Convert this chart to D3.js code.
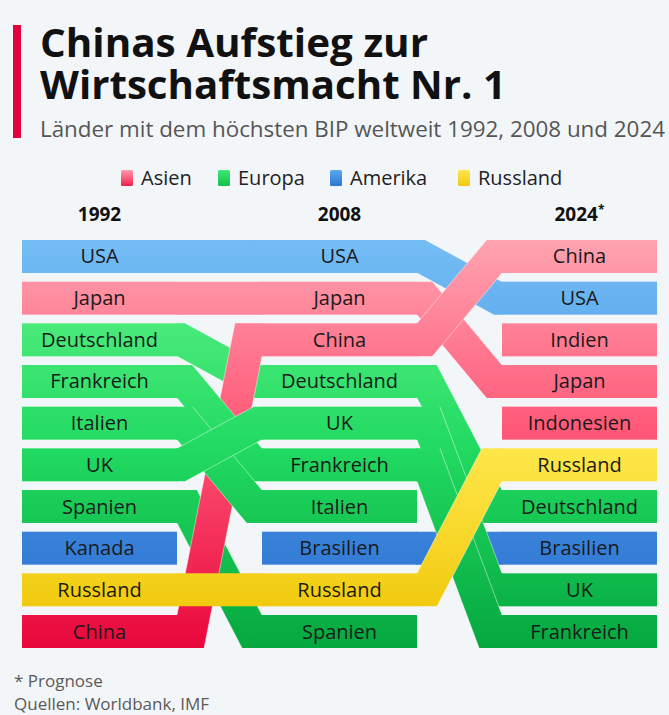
<!DOCTYPE html>
<html>
<head>
<meta charset="utf-8">
<script src="https://cdn.jsdelivr.net/npm/d3@7"></script>
<style>
  html, body { margin: 0; padding: 0; background: #f3f6f9; }
  svg { display: block; }
  text { font-family: "Open Sans", "Noto Sans", sans-serif; }
</style>
</head>
<body>
<svg id="chart" width="669" height="715"></svg>
<script>
// ---------------- DATA ----------------
const titleLines = ["Chinas Aufstieg zur", "Wirtschaftsmacht Nr. 1"];
const subtitle = "Länder mit dem höchsten BIP weltweit 1992, 2008 und 2024";
const categories = ["Asien", "Europa", "Amerika", "Russland"];
const years = ["1992", "2008", "2024"];
const yearLabels = ["1992", "2008", "2024"];
const yearNotes = ["", "", "*"];
const ranks = [1, 2, 3, 4, 5, 6, 7, 8, 9, 10];
const rank1992 = ["USA", "Japan", "Deutschland", "Frankreich", "Italien", "UK", "Spanien", "Kanada", "Russland", "China"];
const rank2008 = ["USA", "Japan", "China", "Deutschland", "UK", "Frankreich", "Italien", "Brasilien", "Russland", "Spanien"];
const rank2024 = ["China", "USA", "Indien", "Japan", "Indonesien", "Russland", "Deutschland", "Brasilien", "UK", "Frankreich"];
const countries = ["USA", "Japan", "China", "Deutschland", "Frankreich", "Italien", "UK", "Spanien", "Kanada", "Russland", "Brasilien", "Indien", "Indonesien"];
const countryRegion = ["Amerika", "Asien", "Asien", "Europa", "Europa", "Europa", "Europa", "Europa", "Amerika", "Russland", "Amerika", "Asien", "Asien"];
const footnotes = ["* Prognose", "Quellen: Worldbank, IMF"];

// ---------------- DRAWING ----------------
const svg = d3.select("#chart");
const W = 669, H = 715;
svg.append("rect").attr("width", W).attr("height", H).attr("fill", "#f3f6f9");

const rankings = [rank1992, rank2008, rank2024];
const regionOf = new Map(countries.map((c, i) => [c, countryRegion[i]]));

const x = d3.scaleBand().domain(years).range([22, 657]).paddingInner(85 / 240).paddingOuter(0);
const y = d3.scaleBand().domain(ranks).range([240, 648]).paddingInner(8.67 / 41.67).paddingOuter(0);
const bw = x.bandwidth();
const bh = y.bandwidth();

// gradients
const defs = svg.append("defs");
const gradStops = {
  "Asien":   [[0, "#ffa3b1"], [0.45, "#ff5a79"], [1, "#e9073b"]],
  "Europa":  [[0, "#66f48c"], [0.5, "#22db62"], [1, "#05a83f"]],
  "Amerika": [[0, "#74bdf4"], [0.5, "#4a98e6"], [1, "#2468cc"]],
  "Russland":[[0, "#fff266"], [0.5, "#ffe84c"], [1, "#eec300"]]
};
const legendStops = {
  "Asien":   [[0, "#ff9aab"], [1, "#f0204c"]],
  "Europa":  [[0, "#3ee873"], [1, "#0fbf4c"]],
  "Amerika": [[0, "#5aa8ee"], [1, "#2c76d4"]],
  "Russland":[[0, "#ffe650"], [1, "#f0c810"]]
};
categories.forEach(c => {
  const g = defs.append("linearGradient").attr("id", "g-" + c)
    .attr("gradientUnits", "userSpaceOnUse")
    .attr("x1", 0).attr("x2", 0).attr("y1", y.range()[0]).attr("y2", y.range()[1]);
  gradStops[c].forEach(s => g.append("stop").attr("offset", s[0]).attr("stop-color", s[1]));
  const lg = defs.append("linearGradient").attr("id", "lg-" + c)
    .attr("x1", 0).attr("x2", 0).attr("y1", 0).attr("y2", 1);
  legendStops[c].forEach(s => lg.append("stop").attr("offset", s[0]).attr("stop-color", s[1]));
});
const fillOf = c => `url(#g-${regionOf.get(c)})`;

// Header: red bar, title, subtitle
svg.append("rect").attr("x", 13).attr("y", 25).attr("width", 8).attr("height", 113).attr("fill", "#e4003a");
const titleW = [388, 466];
const title = svg.append("text").attr("font-size", 39).attr("font-weight", 700).attr("fill", "#111");
titleLines.forEach((t, i) => {
  title.append("tspan").attr("x", 40).attr("y", 57 + i * 42)
    .attr("textLength", titleW[i]).attr("lengthAdjust", "spacingAndGlyphs")
    .text(t);
});
svg.append("text").attr("x", 40).attr("y", 137)
  .attr("font-size", 21.5).attr("fill", "#555")
  .attr("textLength", 625).attr("lengthAdjust", "spacingAndGlyphs")
  .text(subtitle);

// Legend
const legendX = [121, 218, 330, 458];
const legG = svg.append("g");
categories.forEach((c, i) => {
  legG.append("rect").attr("x", legendX[i]).attr("y", 170).attr("width", 12).attr("height", 16)
    .attr("rx", 1.5).attr("fill", `url(#lg-${c})`);
  legG.append("text").attr("x", legendX[i] + 20).attr("y", 185)
    .attr("font-size", 20).attr("fill", "#222").text(c);
});

// Year headers
years.forEach((yr, i) => {
  const t = svg.append("text").attr("x", x(yr) + bw / 2).attr("y", 221)
    .attr("text-anchor", "middle").attr("font-size", 19).attr("font-weight", 700).attr("fill", "#111");
  t.append("tspan").text(yearLabels[i]);
  if (yearNotes[i]) t.append("tspan").attr("font-size", 12).attr("dy", -7).text(yearNotes[i]);
});

// Link geometry
function linkGeom(X1, y1, X2, y2) {
  const G = X2 - X1, h = bh;
  const D = Math.abs(y2 - y1);
  if (D < 0.5) {
    return { poly: [[X1 - 1, y1], [X2 + 1, y1], [X2 + 1, y1 + h], [X1 - 1, y1 + h]], edges: [] };
  }
  const R = Math.hypot(G, h - D);
  const psi = Math.atan2(h - D, G);
  const a = Math.asin(h / R) - psi;
  const run = D / Math.tan(a);
  if (y2 > y1) {
    return {
      poly: [[X1 - 1, y1], [X2 - run, y1], [X2, y2], [X2 + 1, y2], [X2 + 1, y2 + h], [X1 + run, y2 + h], [X1, y1 + h], [X1 - 1, y1 + h]],
      edges: [[[X2 - run, y1], [X2, y2]], [[X1, y1 + h], [X1 + run, y2 + h]]]
    };
  } else {
    return {
      poly: [[X1 - 1, y1], [X1, y1], [X1 + run, y2], [X2 + 1, y2], [X2 + 1, y2 + h], [X2, y2 + h], [X2 - run, y1 + h], [X1 - 1, y1 + h]],
      edges: [[[X1, y1], [X1 + run, y2]], [[X2 - run, y1 + h], [X2, y2 + h]]]
    };
  }
}

const barsG = svg.append("g");
rankings.forEach((list, yi) => {
  list.forEach((c, ri) => {
    barsG.append("rect").attr("x", x(years[yi])).attr("y", y(ranks[ri]))
      .attr("width", bw).attr("height", bh).attr("fill", fillOf(c));
  });
});

// links, in layer order per gap
const layerOrder = [
  ["USA", "Japan", "Kanada", "Deutschland", "Spanien", "China", "Frankreich", "Italien", "UK", "Russland"],
  ["Brasilien", "USA", "Japan", "China", "Italien", "Spanien", "Deutschland", "UK", "Frankreich", "Russland"]
];
const line = d3.line();
const linksG = svg.append("g");
[0, 1].forEach(gi => {
  const A = rankings[gi], B = rankings[gi + 1];
  const X1 = x(years[gi]) + bw, X2 = x(years[gi + 1]);
  layerOrder[gi].forEach(c => {
    const ia = A.indexOf(c), ib = B.indexOf(c);
    if (ia < 0 || ib < 0) return;
    const geom = linkGeom(X1, y(ranks[ia]), X2, y(ranks[ib]));
    linksG.append("path").attr("d", line(geom.poly) + "Z").attr("fill", fillOf(c));
    geom.edges.forEach(e => {
      linksG.append("path").attr("d", line(e)).attr("fill", "none")
        .attr("stroke", "#ffffff").attr("stroke-opacity", 0.5).attr("stroke-width", 0.9);
    });
  });
});

// labels
const labG = svg.append("g");
rankings.forEach((list, yi) => {
  list.forEach((c, ri) => {
    labG.append("text").attr("x", x(years[yi]) + bw / 2).attr("y", y(ranks[ri]) + bh / 2 + 7)
      .attr("text-anchor", "middle").attr("font-size", 20).attr("fill", "#1a1a1a").text(c);
  });
});

// footnotes
footnotes.forEach((f, i) => {
  svg.append("text").attr("x", 14).attr("y", 687 + i * 23)
    .attr("font-size", 17).attr("fill", "#5a5a5a").text(f);
});
</script>
</body>
</html>
